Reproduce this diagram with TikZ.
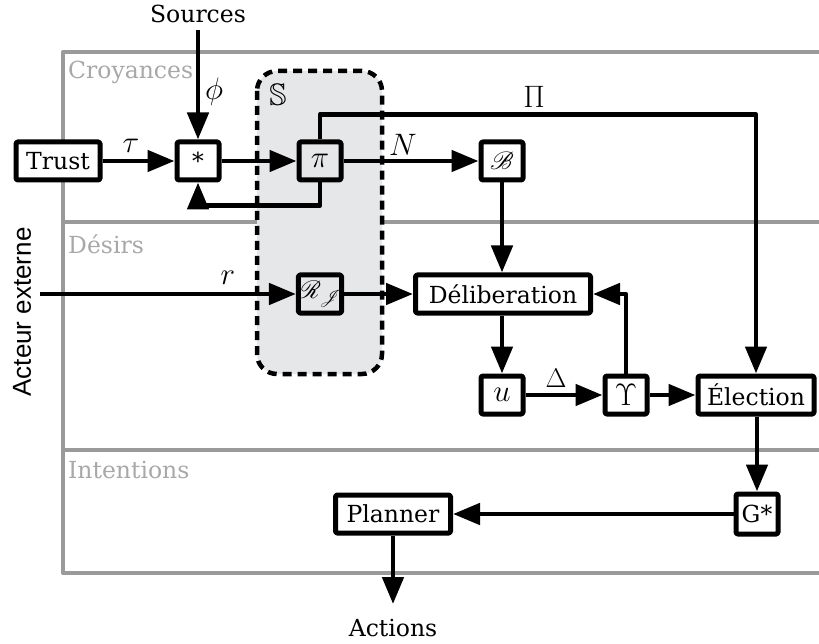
\RequirePackage{fix-cm}
\documentclass[tikz,border=0pt]{standalone}
\usepackage{amssymb}
\usepackage{mathrsfs}
\usepackage{fontspec}
\setmainfont{DejaVu Serif}
\newfontfamily\acteurfont{Liberation Sans}
\usetikzlibrary{arrows.meta}
\definecolor{framegray}{HTML}{9A9A9A}
\definecolor{sfill}{HTML}{E6E7E9}
\definecolor{labelgray}{HTML}{A8A8A8}
\newcommand\mainsz{\fontsize{23.5}{28}\selectfont}
\newcommand\mathsz{\fontsize{31}{36}\selectfont}
\begin{document}
\begin{tikzpicture}[x=1pt,y=-1pt,line join=round,
  bx/.style={draw=black,line width=5pt,fill=white,rounded corners=1.5pt,inner sep=0pt,minimum height=38pt,font=\mainsz},
  sbx/.style={bx,minimum width=42pt,font=\mathsz},
  arr/.style={line width=4.8pt,-{Triangle[length=27pt,width=21pt]}},
  lbl/.style={font=\mainsz,inner sep=0pt},
  mlbl/.style={font=\mathsz,inner sep=0pt},
  zone/.style={font=\mainsz,text=labelgray,anchor=west,inner sep=0pt},
  framel/.style={draw=framegray,line width=4pt}]
\useasboundingbox (0,0) rectangle (819,644);
% frame
\draw[framel] (819,52) -- (63,52) -- (63,573) -- (819,573);
\draw[framel] (63,222) -- (819,222);
\draw[framel] (63,450) -- (819,450);
\node[zone] (zc) at (68,72) {Croyances};
\node[zone] (zd) at (68,244) {Désirs};
\node[zone] (zi) at (68,470) {Intentions};
% S region
\draw[fill=sfill,line width=4.5pt,dash pattern=on 9pt off 6pt,rounded corners=20pt] (257,71) rectangle (382,374);
\node[mlbl] (sl) at (278,95) {$\mathbb{S}$};
% nodes
\node[bx,minimum width=84pt] (trust) at (58,161) {Trust};
\node[sbx,font=\mainsz] (star) at (198,161) {*};
\node[sbx,fill=sfill] (pi) at (320,161) {$\pi$};
\node[sbx,font=\mainsz] (B) at (502,161) {$\mathscr{B}$};
\node[sbx,fill=sfill,font=\mainsz] (RJ) at (320,294) {$\mathscr{R}_{\mathscr{J}}$};
\node[bx,minimum width=175pt] (delib) at (503,294) {Déliberation};
\node[sbx] (u) at (502,395) {$u$};
\node[sbx] (ups) at (626,395) {$\Upsilon$};
\node[bx,minimum width=116pt] (elec) at (756,395) {Élection};
\node[bx,minimum width=42pt,minimum height=40pt] (G) at (757,514) {G*};
\node[bx,minimum width=115pt] (planner) at (393,514) {Planner};
% texts
\node[lbl] (sources) at (198,14) {Sources};
\node[lbl] (actions) at (393,628) {Actions};
\node[rotate=90,inner sep=0pt,font=\acteurfont\fontsize{26}{30}\selectfont] (acteur) at (22,312) {Acteur externe};
\coordinate (srcTop) at (198,30);
\coordinate (rin) at (40,294);
\coordinate (actEnd) at (393,604);
% labels
\node[mlbl] (ltau) at (131,146) {$\tau$};
\node[mlbl] (lphi) at (214,92) {$\phi$};
\node[mlbl] (lN) at (403,145) {$N$};
\node[mlbl] (lPi) at (534,97) {$\Pi$};
\node[mlbl] (lr) at (228,278) {$r$};
\node[mlbl,font=\fontsize{27}{30}\selectfont] (lD) at (556,378) {$\Delta$};
% connectors
\draw[arr] (srcTop) -- (star.north);
\draw[arr] (trust) -- (star);
\draw[arr] (star) -- (pi);
\draw[arr] (pi) -- (B);
\draw[arr] (pi.north) -- ++(0,-25) -| (elec.north);
\draw[arr] (pi.south) -- ++(0,23) -| (star.south);
\draw[arr] (rin) -- (RJ.west);
\draw[arr] (RJ) -- (delib);
\draw[arr] (B.south) -- (B.south |- delib.north);
\draw[arr] (delib.south -| u.north) -- (u.north);
\draw[arr] (u) -- (ups);
\draw[arr] (ups.north) |- (delib.east);
\draw[arr] (ups) -- (elec);
\draw[arr] (elec.south -| G.north) -- (G.north);
\draw[arr] (G) -- (planner);
\draw[arr] (planner) -- (actEnd);
\end{tikzpicture}
\end{document}
